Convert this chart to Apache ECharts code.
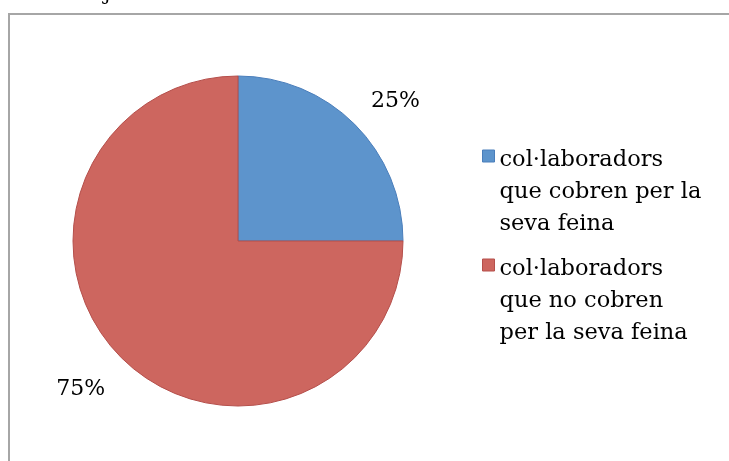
<!DOCTYPE html>
<html>
<head>
<meta charset="utf-8">
<script src="https://cdn.jsdelivr.net/npm/echarts@6/dist/echarts.min.js"></script>
<style>
  html, body { margin: 0; padding: 0; background: #ffffff; }
  #chart { width: 729px; height: 461px; }
</style>
</head>
<body>
<div id="chart"></div>
<script>
// Categories, shares and the text drawn for them
const categories = [
  'col·laboradors que cobren per la seva feina',
  'col·laboradors que no cobren per la seva feina'
];
const legendLines = [
  ['col·laboradors', 'que cobren per la', 'seva feina'],
  ['col·laboradors', 'que no cobren', 'per la seva feina']
];
const shares = [25, 75];
const percentLabels = ['25%', '75%'];
const sliceColors = ['#5d94cc', '#cd665f'];
const sliceBorders = ['#4a7ebb', '#b54f4b'];

const FONT = 'DejaVu Serif';
const CX = 238, CY = 241, R = 165, LABEL_GAP = 23, LABEL_DROP = 4;
const total = shares.reduce((a, b) => a + b, 0);

// Mid-angle (radians, counter-clockwise from +x) of slice i, slices run clockwise from 12 o'clock
function midAngle(i) {
  let start = 90;
  for (let k = 0; k < i; k++) start -= shares[k] / total * 360;
  return (start - shares[i] / total * 180) * Math.PI / 180;
}

const chart = echarts.init(document.getElementById('chart'), null, { renderer: 'canvas' });

chart.setOption({
  backgroundColor: '#ffffff',
  animation: false,
  graphic: [
    {
      type: 'rect',
      shape: { x: 9, y: 14, width: 760, height: 500 },
      style: { fill: 'none', stroke: '#a6a6a6', lineWidth: 2 },
      silent: true
    },
    {
      type: 'text',
      x: 104, y: -15,
      style: { text: 'j', font: '20px "' + FONT + '"', fill: '#000' },
      silent: true
    }
  ],
  legend: {
    orient: 'vertical',
    left: 482,
    top: 144,
    padding: 0,
    itemGap: 13,
    itemWidth: 12,
    itemHeight: 84,
    // square swatch sitting at the top of a taller item, so it lines up with the first text line
    icon: 'path://M0,0H12V12H0Z M0,84',
    itemStyle: { borderWidth: 1 },
    selectedMode: false,
    data: categories,
    formatter: name => legendLines[categories.indexOf(name)].join('\n'),
    textStyle: { fontFamily: FONT, fontSize: 22.5, lineHeight: 32, color: '#000' }
  },
  series: [{
    type: 'pie',
    center: [CX, CY],
    radius: R,
    startAngle: 90,
    clockwise: true,
    silent: true,
    data: categories.map((name, i) => ({
      name: name,
      value: shares[i],
      itemStyle: { color: sliceColors[i], borderColor: sliceBorders[i], borderWidth: 1 }
    })),
    label: {
      show: true,
      position: 'outside',
      formatter: p => percentLabels[p.dataIndex],
      fontFamily: FONT,
      fontSize: 22,
      color: '#000'
    },
    labelLine: { show: false },
    labelLayout: function (params) {
      const a = midAngle(params.dataIndex);
      const d = R + LABEL_GAP;
      return {
        x: CX + d * Math.cos(a),
        y: CY - d * Math.sin(a) + LABEL_DROP,
        align: Math.cos(a) >= 0 ? 'left' : 'right',
        verticalAlign: Math.sin(a) >= 0 ? 'bottom' : 'top'
      };
    }
  }]
});
</script>
</body>
</html>
